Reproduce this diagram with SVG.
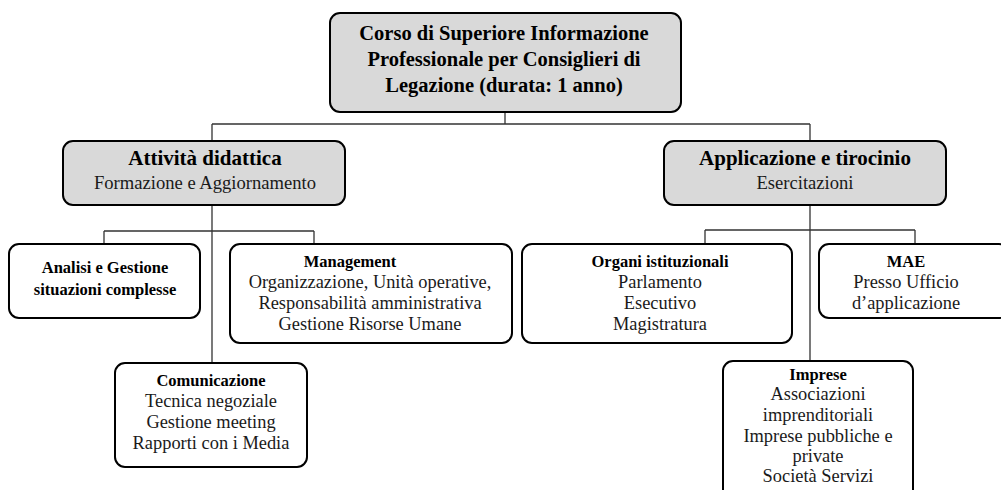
<svg xmlns="http://www.w3.org/2000/svg" width="1001" height="490" viewBox="0 0 1001 490">
  <style>
    .box { stroke: #000; stroke-width: 2; }
    .grey { fill: #d9d9d9; }
    .white { fill: #fff; }
    .conn { stroke: #333; stroke-width: 1.3; fill: none; }
    .t { font-family: 'Liberation Serif', 'DejaVu Serif', serif; text-anchor: middle; fill: #1a1a1a; }
    .b { font-weight: bold; fill: #000; }
    .h1 { font-size: 20.5px; }
    .h2 { font-size: 21px; }
    .h3 { font-size: 16.5px; }
    .sub { font-size: 18.6px; }
    .body { font-size: 18.4px; }
  </style>
  <rect width="1001" height="490" fill="#fff"/>

  <g id="connectors">
    <path class="conn" d="M505,112 V124 M212,124 H810 M212,124 V141 M810,124 V141"/>
    <path class="conn" d="M212,205 V363 M104,231 H314 M104,231 V244 M314,231 V244"/>
    <path class="conn" d="M810,205 V361 M705,230 H915 M705,230 V244 M915,230 V244"/>
  </g>

  <g class="t" font-family="Liberation Serif, DejaVu Serif, serif">
  <g id="corso">
    <rect class="box grey" x="330" y="13" width="351" height="99" rx="10"/>
    <text class="b h1" x="504" y="40">Corso di Superiore Informazione</text>
    <text class="b h1" x="504" y="66">Professionale per Consiglieri di</text>
    <text class="b h1" x="504" y="92">Legazione (durata: 1 anno)</text>
  </g>

  <g id="attivita">
    <rect class="box grey" x="63" y="141" width="282" height="64" rx="10"/>
    <text class="b h2" x="205" y="165">Attività didattica</text>
    <text class="sub" x="205" y="189">Formazione e Aggiornamento</text>
  </g>

  <g id="applicazione">
    <rect class="box grey" x="664" y="141" width="282" height="64" rx="10"/>
    <text class="b h2" x="805" y="165">Applicazione e tirocinio</text>
    <text class="sub" x="805" y="189">Esercitazioni</text>
  </g>

  <g id="analisi">
    <rect class="box white" x="9" y="244" width="191" height="74" rx="10"/>
    <text class="b h3" x="105" y="273">Analisi e Gestione</text>
    <text class="b h3" x="105" y="295">situazioni complesse</text>
  </g>

  <g id="management">
    <rect class="box white" x="230" y="244" width="282" height="99" rx="10"/>
    <text class="b h3" x="350" y="267">Management</text>
    <text class="body" x="370" y="288">Organizzazione, Unità operative,</text>
    <text class="body" x="370" y="309">Responsabilità amministrativa</text>
    <text class="body" x="370" y="330">Gestione Risorse Umane</text>
  </g>

  <g id="comunicazione">
    <rect class="box white" x="115" y="363" width="192" height="104" rx="10"/>
    <text class="b h3" x="211" y="386">Comunicazione</text>
    <text class="body" x="211" y="407">Tecnica negoziale</text>
    <text class="body" x="211" y="428">Gestione meeting</text>
    <text class="body" x="211" y="449">Rapporti con i Media</text>
  </g>

  <g id="organi">
    <rect class="box white" x="522" y="244" width="270" height="99" rx="10"/>
    <text class="b h3" x="660" y="267">Organi istituzionali</text>
    <text class="body" x="660" y="288">Parlamento</text>
    <text class="body" x="660" y="309">Esecutivo</text>
    <text class="body" x="660" y="330">Magistratura</text>
  </g>

  <g id="mae">
    <rect class="box white" x="819" y="244" width="190" height="74" rx="10"/>
    <text class="b h3" x="906" y="267">MAE</text>
    <text class="body" x="906" y="288">Presso Ufficio</text>
    <text class="body" x="906" y="309">d’applicazione</text>
  </g>

  <g id="imprese">
    <rect class="box white" x="723" y="361" width="190" height="140" rx="10"/>
    <text class="b h3" x="818" y="380">Imprese</text>
    <text class="body" x="818" y="400">Associazioni</text>
    <text class="body" x="818" y="421">imprenditoriali</text>
    <text class="body" x="818" y="442">Imprese pubbliche e</text>
    <text class="body" x="818" y="462">private</text>
    <text class="body" x="818" y="482">Società Servizi</text>
  </g>
  </g>
</svg>
